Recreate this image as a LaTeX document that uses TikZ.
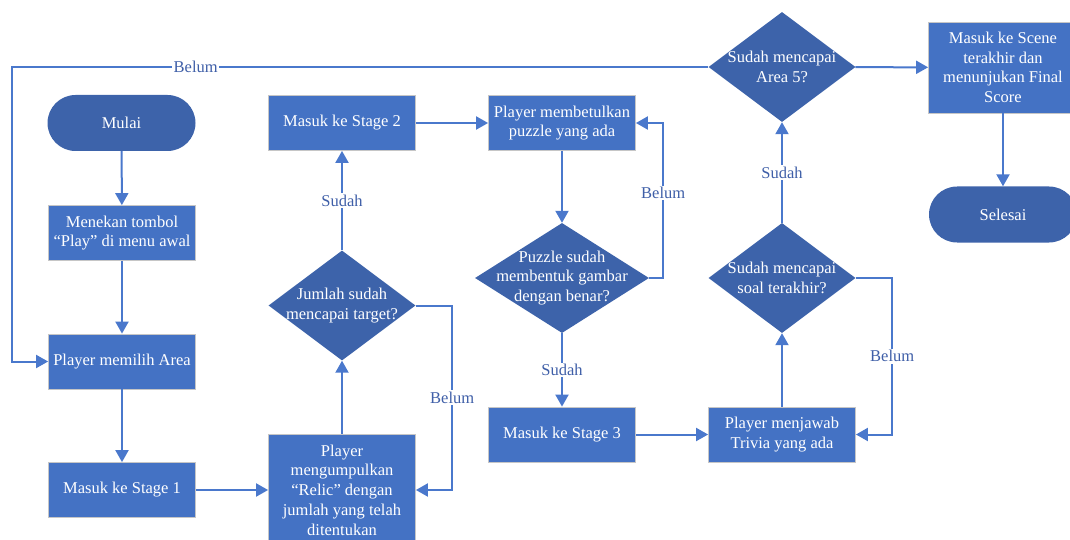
\documentclass[tikz,border=0pt]{standalone}
\usepackage{fontspec}
\setmainfont{Liberation Serif}
\usetikzlibrary{arrows.meta,shapes.geometric}
\definecolor{boxblue}{HTML}{4472C4}
\definecolor{darkblue}{HTML}{3D63AA}
\definecolor{lineblue}{HTML}{4A78CC}
\definecolor{lblblue}{HTML}{3F5FA8}
\begin{document}
\begin{tikzpicture}[x=1pt,y=-1pt,
  txt/.style={font=\fontsize{16.5}{19.7}\selectfont},
  procbox/.style={txt,draw=gray!45,line width=0.8pt,fill=boxblue,text=white,minimum width=147pt,minimum height=55pt,align=center,inner sep=0pt},
  termbox/.style={txt,fill=darkblue,text=white,minimum width=148pt,minimum height=56pt,rounded corners=28pt,align=center},
  decide/.style={diamond,fill=darkblue,minimum width=147pt,minimum height=110pt,inner sep=0pt},
  dtext/.style={txt,text=white,align=center,inner sep=0pt},
  conn/.style={draw=lineblue,line width=2pt,-{Triangle[length=12pt,width=13pt]}},
  lbl/.style={txt,text=lblblue,fill=white,inner sep=1.5pt}
]
\useasboundingbox (0,0) rectangle (1070,540);

\node[termbox] (start) at (121.5,123) {Mulai};
\node[procbox] (press) at (122,233) {Menekan tombol\\“Play” di menu awal};
\node[procbox] (area) at (122,361.5) {Player memilih Area};
\node[procbox] (st1) at (122,490) {Masuk ke Stage 1};
\node[procbox, minimum height=112pt] (relic) at (342,490) {Player\\mengumpulkan\\“Relic” dengan\\jumlah yang telah\\ditentukan};
\node[decide, label={[dtext]center:{Jumlah sudah\\mencapai target?}}] (target) at (342,305.5) {};
\node[procbox] (st2) at (342,123) {Masuk ke Stage 2};
\node[procbox] (puzz) at (562,123) {Player membetulkan\\puzzle yang ada};
\node[decide, minimum width=174pt, label={[dtext]center:{Puzzle sudah\\membentuk gambar\\dengan benar?}}] (pzok) at (562,278) {};
\node[procbox] (st3) at (562,434.5) {Masuk ke Stage 3};
\node[procbox] (triv) at (782,434.5) {Player menjawab\\Trivia yang ada};
\node[decide, label={[dtext]center:{Sudah mencapai\\soal terakhir?}}] (last) at (782,278) {};
\node[decide, label={[dtext]center:{Sudah mencapai\\Area 5?}}] (area5) at (782,67) {};
\node[procbox, minimum height=91pt, minimum width=149pt] (scene) at (1003,67.5) {Masuk ke Scene\\terakhir dan\\menunjukan Final\\Score};
\node[termbox] (end) at (1003,214.5) {Selesai};

\draw[conn] (start) -- (press);
\draw[conn] (press) -- (area);
\draw[conn] (area) -- (st1);
\draw[conn] (st1.east) -- (relic.west);
\draw[conn] (relic) -- (target);
\draw[conn] (target) -- node[lbl]{Sudah} (st2);
\draw[conn] (target.east) -- ++(36.5,0) |- node[lbl,pos=0.25]{Belum} (relic.east);
\draw[conn] (st2) -- (puzz);
\draw[conn] (puzz) -- (pzok);
\draw[conn] (pzok.east) -- ++(14,0) |- node[lbl,pos=0.274]{Belum} (puzz.east);
\draw[conn] (pzok) -- node[lbl]{Sudah} (st3);
\draw[conn] (st3) -- (triv);
\draw[conn] (triv) -- (last);
\draw[conn] (last.east) -- ++(36.5,0) |- node[lbl,pos=0.25]{Belum} (triv.east);
\draw[conn] (last) -- node[lbl]{Sudah} (area5);
\draw[conn] (area5) -- (scene);
\draw[conn] (scene) -- (end);
\draw[conn] (area5.west) -- node[lbl,pos=0.736]{Belum} ++(-696.5,0) |- (area.west);
\end{tikzpicture}
\end{document}
